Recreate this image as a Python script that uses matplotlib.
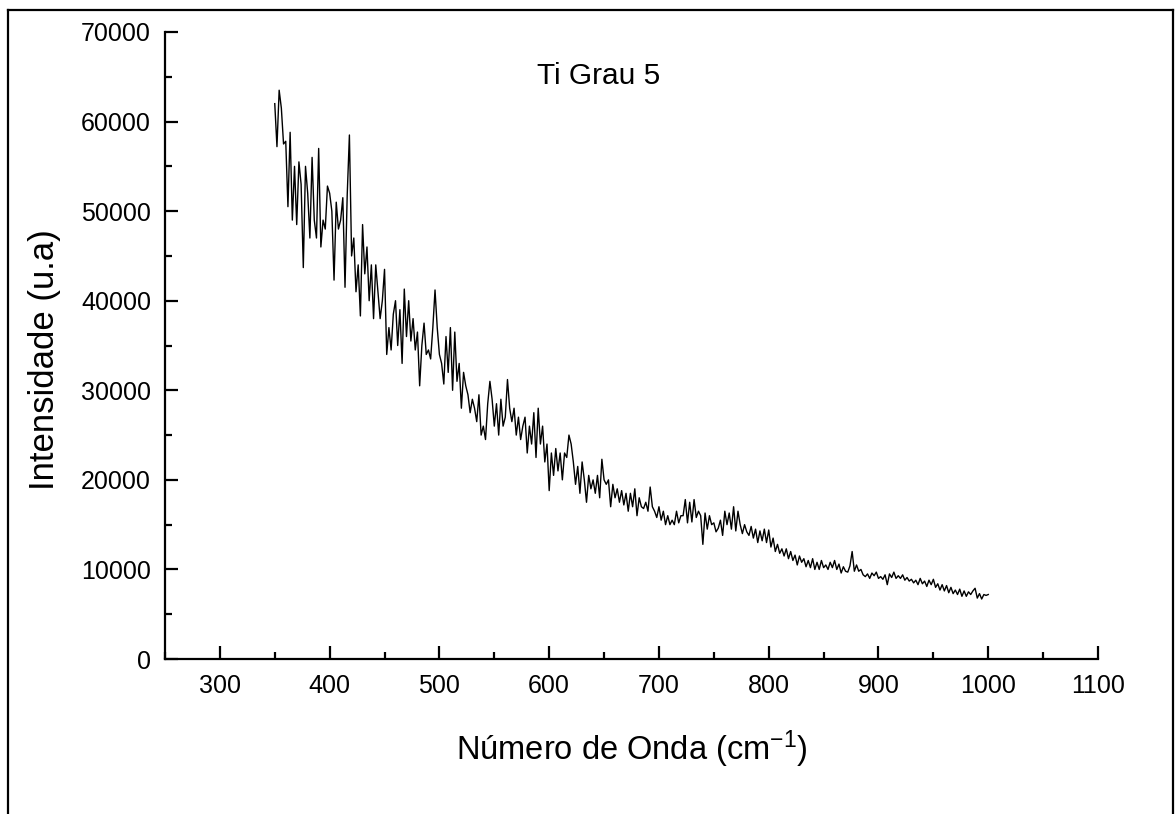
import numpy as np
import matplotlib
matplotlib.use("Agg")
import matplotlib.pyplot as plt
from matplotlib.lines import Line2D
from matplotlib.ticker import MultipleLocator

plt.rcParams['font.family'] = ['Liberation Sans', 'DejaVu Sans']
plt.rcParams['mathtext.default'] = 'regular'

# Raman spectrum, sampled every 2 cm^-1 from 350 to 1000
wavenumber = np.arange(350, 1001, 2)
intensity = [
    62000, 57200, 63500, 61500, 57500, 57800, 50500, 58800, 49000, 55000,
    48500, 55500, 53000, 43700, 55000, 52000, 47000, 56000, 49000, 47000,
    57000, 46000, 49000, 48000, 52800, 52000, 50000, 42300, 51000, 48000,
    49000, 51500, 41500, 51800, 58500, 45000, 47000, 41000, 44000, 38300,
    48500, 43000, 46000, 40000, 44000, 38000, 44000, 41000, 38000, 40000,
    43500, 34000, 37000, 34500, 38500, 40000, 35000, 39000, 33000, 41300,
    36000, 40000, 35500, 38000, 34500, 36500, 30500, 35000, 37500, 34000,
    34500, 33500, 37000, 41200, 37000, 34000, 33000, 30700, 36000, 32000,
    37000, 30000, 36500, 31000, 33000, 28000, 32000, 30500, 29500, 27500,
    29000, 28000, 26500, 29500, 25000, 26000, 24500, 28500, 31000, 29000,
    26000, 28500, 25000, 29000, 26000, 27000, 31200, 28000, 26500, 28000,
    25000, 27000, 24500, 26000, 27000, 23000, 26000, 24000, 27500, 22500,
    28000, 24000, 26000, 22000, 24000, 18800, 23000, 20500, 23500, 21000,
    23000, 20000, 23000, 22500, 25000, 24000, 22000, 19500, 21500, 18500,
    22000, 20000, 17500, 20500, 19000, 20000, 18500, 20500, 18000, 22300,
    20000, 19500, 20000, 17000, 19500, 18000, 19000, 17500, 18800, 17200,
    18500, 16500, 18500, 17000, 19000, 16000, 18000, 17000, 16800, 17500,
    16500, 19200, 17000, 16500, 15800, 17000, 15500, 16500, 15000, 16000,
    15000, 15500, 15000, 16500, 15200, 16000, 16000, 17800, 15200, 17500,
    15300, 17800, 15800, 16500, 16000, 12800, 16300, 14500, 16000, 15000,
    15200, 14200, 14600, 15500, 13800, 16500, 15000, 16300, 14500, 17000,
    14300, 16500, 15000, 14000, 15000, 14200, 13800, 14800, 13500, 14500,
    13000, 14300, 13200, 14500, 13000, 14400, 12500, 13500, 12000, 12800,
    11800, 12300, 11500, 12300, 11200, 12000, 11000, 11600, 10500, 11500,
    10800, 11200, 10300, 11000, 10200, 11200, 10000, 10800, 10000, 11000,
    10200, 10500, 10000, 10800, 10200, 11000, 10000, 10600, 9600, 10300,
    9800, 9700, 10400, 12000, 9800, 10500, 9800, 10000, 9400, 9200,
    9500, 9000, 9600, 9300, 9700, 9000, 9200, 8900, 9400, 8300,
    9500, 9100, 9700, 9000, 9300, 9000, 9400, 8800, 9100, 8700,
    8900, 8500, 8800, 8300, 9000, 8400, 8700, 8100, 8800, 8300,
    8900, 8000, 8400, 7700, 8300, 7600, 8200, 7400, 8000, 7300,
    7700, 7200, 7800, 7000, 7600, 7000, 7500, 7200, 7600, 7900,
    6800, 7300, 6700, 7200, 7100, 7200,
]

x_ticks = [300, 400, 500, 600, 700, 800, 900, 1000, 1100]
y_ticks = [0, 10000, 20000, 30000, 40000, 50000, 60000, 70000]

fig = plt.figure(figsize=(11.76, 8.14), dpi=100)
ax = fig.add_axes([0.1403, 0.1904, 0.7934, 0.7703])

ax.plot(wavenumber, intensity, color='black', linewidth=1.0)

ax.set_xlim(250, 1100)
ax.set_ylim(0, 70000)
ax.set_xticks(x_ticks)
ax.set_yticks(y_ticks)
ax.xaxis.set_minor_locator(MultipleLocator(50))
ax.yaxis.set_minor_locator(MultipleLocator(5000))

for side in ('top', 'right'):
    ax.spines[side].set_visible(False)
for side in ('left', 'bottom'):
    ax.spines[side].set_linewidth(1.6)

ax.tick_params(axis='y', which='major', direction='in', length=9.5,
               width=1.6, labelsize=18, pad=10)
ax.tick_params(axis='x', which='major', direction='in', length=9.5,
               width=1.6, labelsize=18, pad=11)
ax.tick_params(which='minor', direction='in', length=5, width=1.6)

ax.set_xlabel('Número de Onda (cm$^{-1}$)', fontsize=23.5, labelpad=22)
ax.set_ylabel('Intensidade (u.a)', fontsize=25)
ax.yaxis.set_label_coords(-0.111, 0.477)

ax.text(645, 65100, 'Ti Grau 5', fontsize=21.5, ha='center', va='center')

# Frame around the figure (left, top and right edges)
frame_kw = dict(color='black', linewidth=1.6, transform=fig.transFigure)
fig.add_artist(Line2D([0.0068, 0.0068], [0.0, 0.9877], **frame_kw))
fig.add_artist(Line2D([0.0068, 0.9975], [0.9877, 0.9877], **frame_kw))
fig.add_artist(Line2D([0.9975, 0.9975], [0.0, 0.9877], **frame_kw))

fig.savefig('out.png', dpi=100)
